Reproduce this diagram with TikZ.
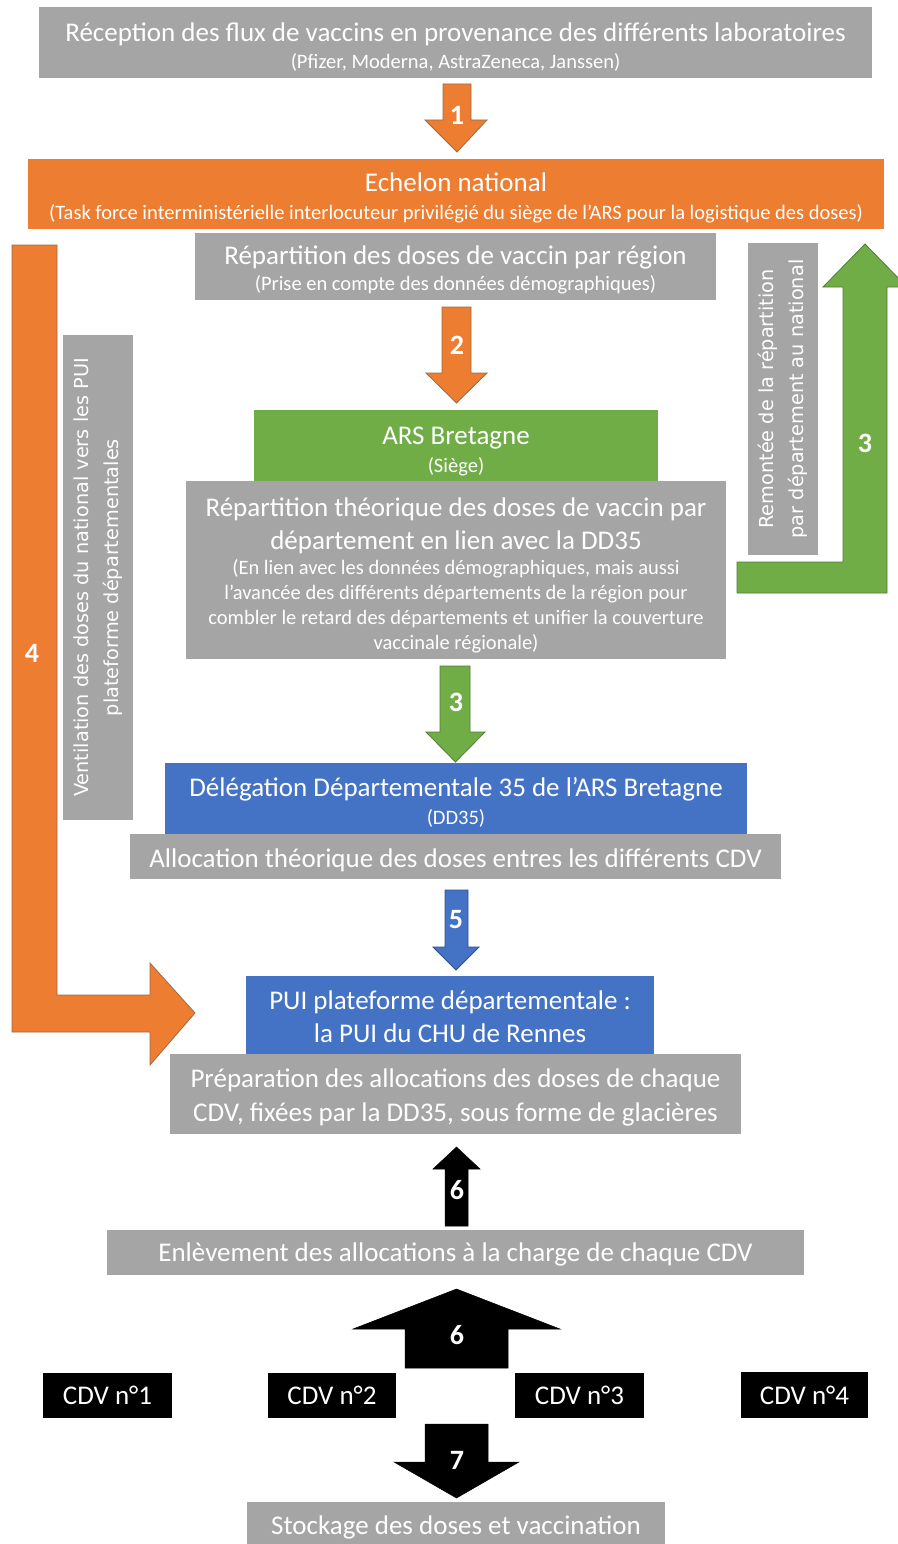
\documentclass[tikz,border=0pt]{standalone}
\usepackage{fontspec}
\setmainfont{Carlito}
\newfontfamily\verdfont{DejaVu Sans}
\definecolor{cgray}{HTML}{A5A5A5}
\definecolor{corange}{HTML}{ED7D31}
\definecolor{cgreen}{HTML}{70AD47}
\definecolor{cblue}{HTML}{4472C4}
\definecolor{dorange}{HTML}{9E6A4A}
\definecolor{dgreen}{HTML}{507E32}
\definecolor{dblue}{HTML}{2F528F}
\newcommand\tA{\fontsize{27}{20}\selectfont}
\newcommand\tB{\fontsize{20.5}{20}\selectfont}
% style, name, x1, y1, x2, y2, text, downward text shift
\newcommand\bx[8]{%
  \node[#1,minimum width={(#5-#3)*1pt},minimum height={(#6-#4)*1pt}] (#2) at ({(#3+#5)/2},{(#4+#6)/2}) {};
  \node[txt] (#2-t) at ([yshift=-#8pt]#2.center) {#7};}
\begin{document}
\lineskiplimit=-100pt\relax
\begin{tikzpicture}[x=1pt,y=-1pt,
  box/.style={inner sep=0pt,outer sep=0pt,draw=none},
  txt/.style={inner sep=0pt,outer sep=0pt,text=white,align=center,font=\tA},
  gbox/.style={box,fill=cgray},
  obox/.style={box,fill=corange},
  grbox/.style={box,fill=cgreen},
  bbox/.style={box,fill=cblue},
  kbox/.style={box,fill=black},
  rotbox/.style={box,fill=cgray,text=white,align=center,rotate=90,font=\verdfont\fontsize{19.3}{30}\selectfont},
  num/.style={text=white,font=\fontsize{28}{28}\selectfont\bfseries,inner sep=0pt},
  oarrow/.style={fill=corange,draw=dorange,line width=0.8pt},
  garrow/.style={fill=cgreen,draw=dgreen,line width=0.8pt},
  barrow/.style={fill=cblue,draw=dblue,line width=0.8pt},
  karrow/.style={fill=black,draw=black,line width=0.5pt}]
\useasboundingbox (0,0) rectangle (897,1544);

% boxes
\bx{gbox}{recep}{39}{7}{872}{78}{\tA Réception des flux de vaccins en provenance des différents laboratoires\\[7pt]\tB(Pfizer, Moderna, AstraZeneca, Janssen)}{5}
\bx{obox}{echelon}{28}{159}{884}{229}{\tA Echelon national\\[8pt]\tB(Task force interministérielle interlocuteur privilégié du siège de l’ARS pour la logistique des doses)}{4}
\bx{gbox}{repreg}{195}{233}{716}{300}{\tA Répartition des doses de vaccin par région\\[6pt]\tB(Prise en compte des données démographiques)}{3}
\bx{grbox}{ars}{254}{410}{658}{481}{\tA ARS Bretagne\\[8pt]\tB(Siège)}{6}
\bx{gbox}{repth}{186}{481}{726}{659}{\tA Répartition théorique des doses de vaccin par\\[13pt]\tA département en lien avec la DD35\\[5pt]\tB(En lien avec les données démographiques, mais aussi\\[5pt]\tB l’avancée des différents départements de la région pour\\[5pt]\tB combler le retard des départements et unifier la couverture\\[5pt]\tB vaccinale régionale)}{5}
\bx{bbox}{dd}{165}{763}{747}{834}{\tA Délégation Départementale 35 de l’ARS Bretagne\\[8pt]\tB(DD35)}{4}
\bx{gbox}{alloc}{130}{834}{781}{879}{\tA Allocation théorique des doses entres les différents CDV}{4}
\bx{bbox}{pui}{246}{976}{654}{1054}{\tA PUI plateforme départementale :\\[13pt]\tA la PUI du CHU de Rennes}{2}
\bx{gbox}{prep}{170}{1054}{741}{1134}{\tA Préparation des allocations des doses de chaque\\[14pt]\tA CDV, fixées par la DD35, sous forme de glacières}{3}
\bx{gbox}{enl}{107}{1230}{804}{1275}{\tA Enlèvement des allocations à la charge de chaque CDV}{2}
\bx{kbox}{cdv1}{43}{1373}{172}{1418}{\tA CDV n°1}{0}
\bx{kbox}{cdv2}{268}{1373}{396}{1418}{\tA CDV n°2}{0}
\bx{kbox}{cdv3}{515}{1373}{644}{1418}{\tA CDV n°3}{0}
\bx{kbox}{cdv4}{741}{1372}{868}{1418}{\tA CDV n°4}{0}
\bx{gbox}{stock}{247}{1502}{665}{1544}{\tA Stockage des doses et vaccination}{4}

% rotated side labels
\node[rotbox,minimum width=485pt,minimum height=70pt] (ventil) at (98,577.5) {Ventilation des doses du national vers les PUI\\plateforme départementales};
\node[rotbox,minimum width=312pt,minimum height=70pt] (remont) at (783,399) {Remontée de la répartition\\par département au national};

% block arrows
\draw[oarrow] (443,84) -- (471,84) -- (471,120) -- (487,120) -- (457,152) -- (425,120) -- (443,120) -- cycle;
\draw[oarrow] (442,307) -- (471,307) -- (471,373) -- (487,373) -- (456.5,403) -- (426,373) -- (442,373) -- cycle;
\draw[garrow] (440,666) -- (470,666) -- (470,732) -- (485,732) -- (455.5,762) -- (426,732) -- (440,732) -- cycle;
\draw[barrow] (445,890) -- (468,890) -- (468,947) -- (479,947) -- (456,970) -- (433,947) -- (445,947) -- cycle;
\draw[karrow] (445,1226) -- (468,1226) -- (468,1169) -- (480,1169) -- (456.5,1147) -- (433,1169) -- (445,1169) -- cycle;
\draw[karrow] (405,1368) -- (508,1368) -- (508,1329) -- (560,1329) -- (456.5,1289) -- (353,1329) -- (405,1329) -- cycle;
\draw[karrow] (425,1424) -- (488,1424) -- (488,1462) -- (519,1462) -- (456.5,1498) -- (394,1462) -- (425,1462) -- cycle;
% L-shaped arrows
\draw[oarrow] (12,245) -- (57,245) -- (57,995) -- (150,995) -- (150,963) -- (195,1013) -- (150,1065) -- (150,1032) -- (12,1032) -- cycle;
\draw[garrow] (737,562) -- (843,562) -- (843,287) -- (823,287) -- (865,244) -- (907,287) -- (887,287) -- (887,593) -- (737,593) -- cycle;

% step numbers
\node[num] (n1) at (457,115) {1};
\node[num] (n2) at (457,345) {2};
\node[num] (n3) at (456,702) {3};
\node[num] (n3b) at (865,443) {3};
\node[num] (n4) at (32,653) {4};
\node[num] (n5) at (456,920) {5};
\node[num] (n6) at (457,1190) {6};
\node[num] (n6b) at (457,1335) {6};
\node[num] (n7) at (457,1460) {7};
\end{tikzpicture}
\end{document}
